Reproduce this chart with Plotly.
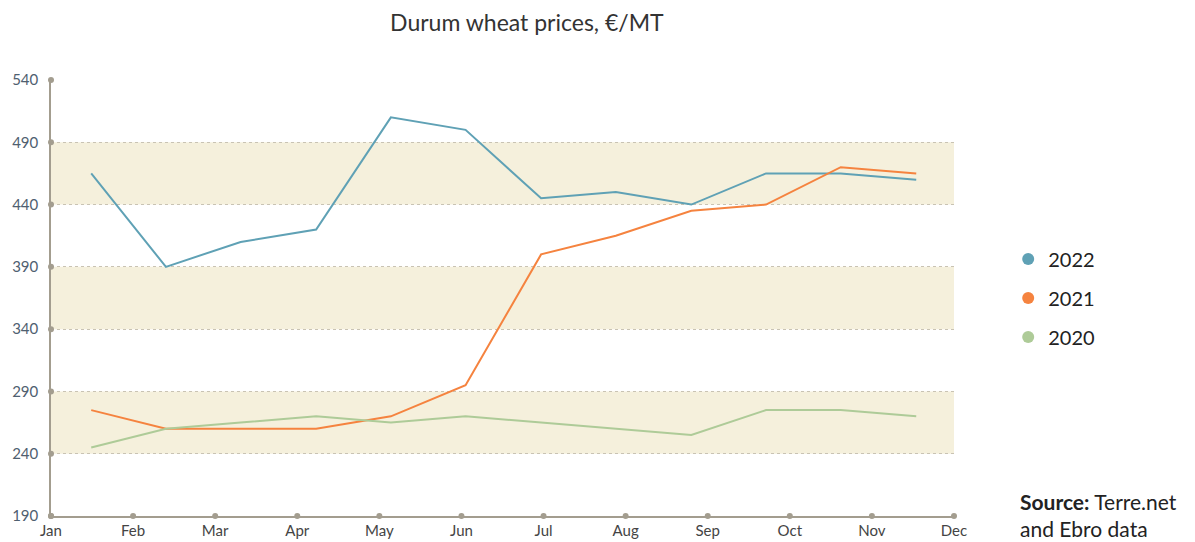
import plotly.graph_objects as go

months = ['Jan', 'Feb', 'Mar', 'Apr', 'May', 'Jun', 'Jul', 'Aug', 'Sep', 'Oct', 'Nov', 'Dec']
month_pos = list(range(12))
y_ticks = [190, 240, 290, 340, 390, 440, 490, 540]
bands = [(240, 290), (340, 390), (440, 490)]

# x positions of the observations (in month units, Jan = 0)
obs_x = [0.49, 1.40, 2.31, 3.23, 4.14, 5.05, 5.97, 6.88, 7.80, 8.71, 9.62, 10.54]

prices_2022 = [465, 390, 410, 420, 510, 500, 445, 450, 440, 465, 465, 460]
prices_2021 = [275, 260, 260, 260, 270, 295, 400, 415, 435, 440, 470, 465]
prices_2020 = [245, 260, 265, 270, 265, 270, 265, 260, 255, 275, 275, 270]

series = [
    ('2022', prices_2022, '#5fa1b5'),
    ('2021', prices_2021, '#f5833f'),
    ('2020', prices_2020, '#aecb98'),
]

axis_color = '#a39d8f'

fig = go.Figure()

for name, vals, color in series:
    fig.add_trace(go.Scatter(
        x=obs_x, y=vals, mode='lines', name=name,
        line=dict(color=color, width=2), showlegend=False,
    ))
    # legend entry with a round marker
    fig.add_trace(go.Scatter(
        x=[None], y=[None], mode='markers', name=name, legendgroup=name,
        marker=dict(color=color, size=15, symbol='circle'),
    ))

# small dots on the axis ticks
fig.add_trace(go.Scatter(
    x=month_pos, y=[y_ticks[0]] * len(month_pos), mode='markers',
    marker=dict(color=axis_color, size=6), showlegend=False,
    cliponaxis=False, hoverinfo='skip'))
fig.add_trace(go.Scatter(
    x=[0] * len(y_ticks), y=y_ticks, mode='markers',
    marker=dict(color=axis_color, size=6), showlegend=False,
    cliponaxis=False, hoverinfo='skip'))

for lo, hi in bands:
    fig.add_shape(type='rect', xref='x', yref='y', x0=0, x1=11, y0=lo, y1=hi,
                  fillcolor='#f5f0dc', line_width=0, layer='below')

# the page adds an 8px body margin, so the figure is 8px smaller
fig.update_layout(
    width=1187, height=534,
    margin=dict(l=43, r=241, t=72, b=26, autoexpand=False),
    paper_bgcolor='white', plot_bgcolor='white',
    font=dict(family='Lato, Open Sans, sans-serif', color='#333'),
    title=dict(text='Durum wheat prices, €/MT', xref='paper', x=0.527,
               xanchor='center', yref='container', y=0.972, yanchor='middle',
               font=dict(size=23, color='#333')),
    legend=dict(x=1.06, xanchor='left', y=0.5, yanchor='middle',
                font=dict(size=20, color='#222'), itemsizing='constant',
                tracegroupgap=10, itemwidth=30),
    xaxis=dict(range=[0, 11], tickvals=month_pos, ticktext=months,
               showgrid=False, zeroline=False, showline=True,
               linecolor=axis_color, linewidth=1.5, ticks='',
               tickfont=dict(size=15, color='#444')),
    yaxis=dict(range=[190, 540], tickvals=y_ticks, showgrid=True,
               gridcolor='#c9c3b3', griddash='dot', gridwidth=1,
               zeroline=False, showline=True, linecolor=axis_color,
               linewidth=1.5, ticks='', ticklabelstandoff=8,
               tickfont=dict(size=15, color='#4f6070')),
    annotations=[dict(
        text='<b>Source:</b> Terre.net<br>and Ebro data', xref='paper',
        yref='paper', x=1.071, xanchor='left', y=0.002, yanchor='middle',
        showarrow=False, align='left', font=dict(size=21, color='#222'))],
)

fig.write_html('out.html')
